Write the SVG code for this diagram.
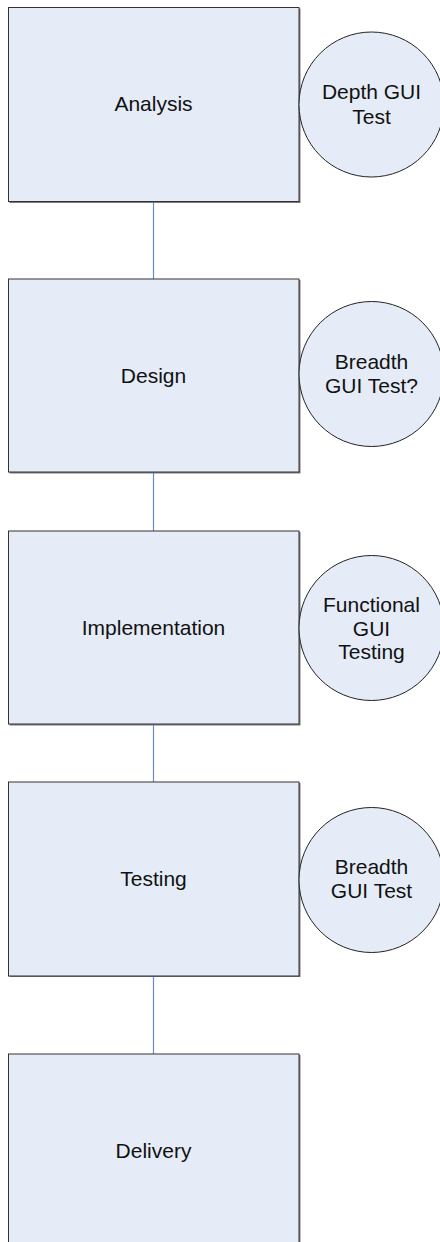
<svg xmlns="http://www.w3.org/2000/svg" width="440" height="1242" viewBox="0 0 440 1242">
<defs>
<style>
.shadow{fill:#7a7a7a}
.box{fill:#e6ecf7;stroke:#333;stroke-width:1}
.circ{fill:#e6ecf7;stroke:#222;stroke-width:1}
.lbl{font-family:"Liberation Sans",Arial,sans-serif;font-size:21px;fill:#111;text-anchor:middle}
.conn{stroke:#6a8ad0;stroke-width:1.2;fill:none}
</style>
</defs>
<rect width="440" height="1242" fill="#fff"/>
<g id="connectors">
<line class="conn" x1="153.5" y1="202" x2="153.5" y2="279"/>
<line class="conn" x1="153.5" y1="472" x2="153.5" y2="531"/>
<line class="conn" x1="153.5" y1="724" x2="153.5" y2="782"/>
<line class="conn" x1="153.5" y1="976" x2="153.5" y2="1054"/>
</g>
<g id="analysis">
<rect class="shadow" x="9.5" y="8.5" width="291" height="194.5"/>
<rect class="box" x="8.5" y="7.5" width="290.5" height="194"/>
<text class="lbl" x="153.5" y="111">Analysis</text>
</g>
<g id="design">
<rect class="shadow" x="9.5" y="280" width="291" height="193.5"/>
<rect class="box" x="8.5" y="279" width="290.5" height="193"/>
<text class="lbl" x="153.5" y="383">Design</text>
</g>
<g id="implementation">
<rect class="shadow" x="9.5" y="532" width="291" height="193.5"/>
<rect class="box" x="8.5" y="531" width="290.5" height="193"/>
<text class="lbl" x="153.5" y="635">Implementation</text>
</g>
<g id="testing">
<rect class="shadow" x="9.5" y="783" width="291" height="194"/>
<rect class="box" x="8.5" y="782" width="290.5" height="194"/>
<text class="lbl" x="153.5" y="886">Testing</text>
</g>
<g id="delivery">
<rect class="shadow" x="9.5" y="1055" width="291" height="200"/>
<rect class="box" x="8.5" y="1054" width="290.5" height="200"/>
<text class="lbl" x="153.5" y="1158">Delivery</text>
</g>
<g id="depth-gui-test">
<circle class="circ" cx="371.5" cy="104.5" r="72.5"/>
<text class="lbl" x="371.5" y="99">Depth GUI</text>
<text class="lbl" x="371.5" y="124">Test</text>
</g>
<g id="breadth-gui-test-q">
<circle class="circ" cx="371.5" cy="374" r="72.5"/>
<text class="lbl" x="371.5" y="369">Breadth</text>
<text class="lbl" x="371.5" y="393">GUI Test?</text>
</g>
<g id="functional-gui-testing">
<circle class="circ" cx="371.5" cy="628" r="72.5"/>
<text class="lbl" x="371.5" y="612">Functional</text>
<text class="lbl" x="371.5" y="636">GUI</text>
<text class="lbl" x="371.5" y="659">Testing</text>
</g>
<g id="breadth-gui-test">
<circle class="circ" cx="371.5" cy="880" r="72.5"/>
<text class="lbl" x="371.5" y="874">Breadth</text>
<text class="lbl" x="371.5" y="898">GUI Test</text>
</g>
</svg>
